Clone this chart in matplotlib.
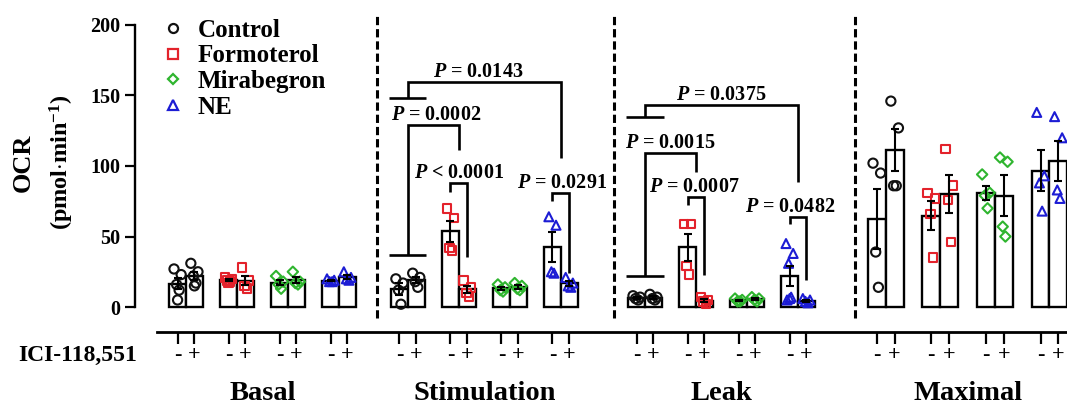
import numpy as np
import matplotlib
matplotlib.use('Agg')
import matplotlib.pyplot as plt
from matplotlib.lines import Line2D

plt.rcParams['font.family'] = ['Liberation Serif', 'DejaVu Serif']
plt.rcParams['font.weight'] = 'bold'
plt.rcParams['mathtext.fontset'] = 'custom'
plt.rcParams['mathtext.rm'] = 'Liberation Serif:bold'
plt.rcParams['mathtext.it'] = 'Liberation Serif:italic:bold'
plt.rcParams['mathtext.bf'] = 'Liberation Serif:bold'

# ---------------- data ----------------
treatments = ['Control', 'Formoterol', 'Mirabegron', 'NE']
sections = ['Basal', 'Stimulation', 'Leak', 'Maximal']
ici_labels = ['-', '+']
y_ticks = [0, 50, 100, 150, 200]

# (ICI-118,551 minus, ICI-118,551 plus) individual values
basal_control = ([27, 23, 16, 12, 5], [31, 25, 22, 17, 15])
basal_formoterol = ([21, 20, 19, 18, 17], [28, 19, 15, 13])
basal_mirabegron = ([22, 18, 16, 13], [25, 18, 17, 16])
basal_ne = ([20, 19, 18, 18], [25, 21, 20, 19])

stim_control = ([20, 17, 12, 2], [24, 21, 18, 14])
stim_formoterol = ([70, 63, 42, 40], [19, 14, 10, 7])
stim_mirabegron = ([16, 14, 12, 11], [17, 15, 13, 12])
stim_ne = ([64, 58, 25, 24], [21, 17, 15, 14])

leak_control = ([8, 7, 6, 5], [9, 7, 6, 5])
leak_formoterol = ([59, 59, 29, 23], [7, 5, 4, 2])
leak_mirabegron = ([6, 5, 4, 4], [7, 6, 5, 4])
leak_ne = ([45, 38, 31, 7, 6, 5], [6, 5, 4, 3])

max_control = ([102, 95, 39, 14], [146, 127, 86, 86])
max_formoterol = ([81, 77, 66, 35], [112, 86, 76, 46])
max_mirabegron = ([94, 81, 79, 70], [106, 103, 57, 50])
max_ne = ([138, 93, 88, 68], [135, 120, 83, 77])

# significance brackets: section, left group, left sub (None = pair), right group,
# right sub, top value, left leg end, right leg end, label
brackets = [
    (1, 0, None, 3, None, 159.6, 148.2, 105.7, r'$P$ = 0.0143'),
    (1, 0, None, 1, None, 129.0, 36.9, 111.0, r'$P$ = 0.0002'),
    (1, 1, 0, 1, 1, 88.0, 81.6, 35.5, r'$P$ < 0.0001'),
    (1, 3, 0, 3, 1, 80.9, 75.2, 24.0, r'$P$ = 0.0291'),
    (2, 0, None, 3, None, 143.0, 134.8, 88.7, r'$P$ = 0.0375'),
    (2, 0, None, 1, None, 109.0, 22.0, 95.7, r'$P$ = 0.0015'),
    (2, 1, 0, 1, 1, 78.0, 72.3, 22.7, r'$P$ = 0.0007'),
    (2, 3, 0, 3, 1, 63.8, 58.9, 19.1, r'$P$ = 0.0482'),
]

data = [
    [basal_control, basal_formoterol, basal_mirabegron, basal_ne],
    [stim_control, stim_formoterol, stim_mirabegron, stim_ne],
    [leak_control, leak_formoterol, leak_mirabegron, leak_ne],
    [max_control, max_formoterol, max_mirabegron, max_ne],
]

# ---------------- style / layout ----------------
colors = ['#111111', '#e3222b', '#2fb52f', '#1c1cd4']
markers = ['o', 's', 'D', '^']
msizes = [44, 38, 28, 42]
section_start = [1.0, 5.35, 10.0, 14.72]
pair_step = [1.0, 1.0, 1.0, 1.07]
bar_w = [0.33, 0.33, 0.33, 0.35]
jitter = [-0.07, 0.07, -0.02, 0.03, 0.0, -0.05]
text_shift = [-0.12, 0.05, 0.0, 0.03, 0.0, 0.0, -0.03, -0.15]

W, H = 1067, 408
fig = plt.figure(figsize=(W / 100, H / 100), dpi=100)
ax = fig.add_axes([135 / W, 1 - 332 / H, (W - 135) / W, (332 - 10) / H])
ax.set_xlim(0, (W - 135) / 51)
ax.set_ylim(-17.7, 210.6)


def pair_center(s, g):
    return section_start[s] + g * pair_step[s]


def bar_x(s, g, k):
    return pair_center(s, g) + (k - 0.5) * bar_w[s]


xt, xl = [], []
for s, sec in enumerate(data):
    for g, (minus, plus) in enumerate(sec):
        for k, vals in enumerate((minus, plus)):
            v = np.asarray(vals, dtype=float)
            m = v.mean()
            sem = v.std(ddof=1) / np.sqrt(len(v))
            x = bar_x(s, g, k)
            ax.bar(x, m, width=bar_w[s], facecolor='white', edgecolor='black',
                   linewidth=1.7, zorder=2)
            xs = x + np.array(jitter[:len(v)]) * bar_w[s] / 0.33
            ax.scatter(xs, v, marker=markers[g], s=msizes[g], facecolors='none',
                       edgecolors=colors[g], linewidths=1.5, zorder=3)
            ax.errorbar(x, m, yerr=sem, fmt='none', ecolor='black',
                        elinewidth=1.5, capsize=3, capthick=1.5, zorder=4)
            xt.append(x)
            xl.append(ici_labels[k])

# dashed separators
for s in range(1, 4):
    xd = section_start[s] - 0.6
    ax.plot([xd, xd], [-7.8, 208.5], color='black', lw=2.2,
            dashes=(2.7, 1.3), zorder=1, clip_on=False)

# brackets
for i, (s, gl, kl, gr, kr, ytop, yl, yr, lab) in enumerate(brackets):
    xl_ = pair_center(s, gl) if kl is None else bar_x(s, gl, kl)
    xr_ = pair_center(s, gr) if kr is None else bar_x(s, gr, kr)
    ax.plot([xl_, xl_, xr_, xr_], [yl, ytop, ytop, yr], color='black',
            lw=1.9, solid_capstyle='butt', solid_joinstyle='miter', zorder=5)
    if kl is None:
        c = pair_center(s, gl)
        ax.plot([c - 0.365, c + 0.365], [yl, yl], color='black', lw=1.9,
                solid_capstyle='butt', zorder=5)
    ax.text((xl_ + xr_) / 2 + text_shift[i], ytop + 3.5, lab, ha='center',
            va='baseline', fontsize=14.5, fontweight='bold', zorder=6)

# axes styling
for sp in ['top', 'right']:
    ax.spines[sp].set_visible(False)
ax.spines['left'].set_bounds(0, 200)
ax.spines['left'].set_linewidth(1.7)
ax.spines['bottom'].set_bounds(0.43, (W - 135) / 51)
ax.spines['bottom'].set_linewidth(2.0)
ax.set_yticks(y_ticks)
ax.set_yticklabels([str(t) for t in y_ticks], fontsize=14.5, fontweight='bold')
ax.set_xticks(xt)
ax.set_xticklabels(xl, fontsize=16, fontweight='bold')
ax.tick_params(axis='y', length=7.5, width=1.6, pad=3)
ax.tick_params(axis='x', length=8.5, width=1.6, pad=1)

# labels
fig.text(23 / W, 1 - 163 / H, 'OCR', rotation=90, ha='center', va='center',
         fontsize=19, fontweight='bold')
fig.text(62 / W, 1 - 162 / H, r'(pmol$\cdot$min$^{\mathbf{-1}}$)', rotation=90,
         ha='center', va='center', fontsize=17.5, fontweight='bold')
fig.text(137 / W, 1 - 355 / H, 'ICI-118,551', ha='right', va='center',
         fontsize=17, fontweight='bold')
for s, name in enumerate(sections):
    cx = (bar_x(s, 0, 0) + bar_x(s, 3, 1)) / 2
    xf = (135 + cx * 51) / W
    fig.text(xf, 1 - 394 / H, name, ha='center', va='center', fontsize=20.5,
             fontweight='bold')

handles = [Line2D([], [], linestyle='none', marker=markers[i], markersize=6.5 if i != 2 else 5,
                  markerfacecolor='none', markeredgecolor=colors[i], markeredgewidth=1.6,
                  label=treatments[i]) for i in range(4)]
fig.legend(handles=handles, loc='upper left', bbox_to_anchor=(163 / W, 1 - 19 / H),
           frameon=False, handlelength=0.8, handletextpad=0.6,
           labelspacing=0.1, borderpad=0, borderaxespad=0,
           prop={'weight': 'bold', 'size': 18})

fig.savefig('out.png', dpi=100)
